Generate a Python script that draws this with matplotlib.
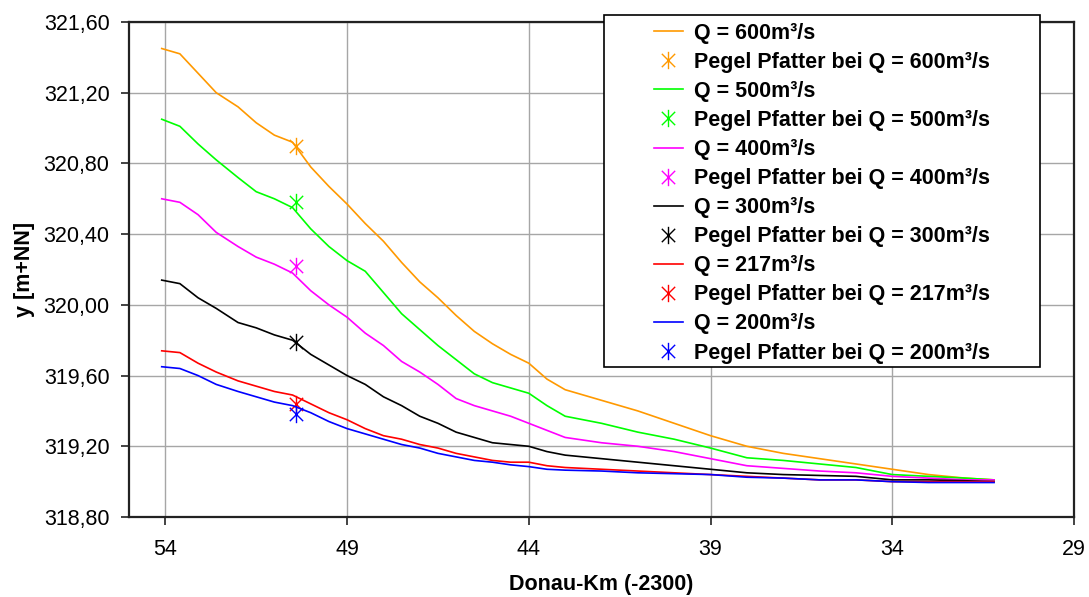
import numpy as np
import matplotlib
matplotlib.use("Agg")
import matplotlib.pyplot as plt
from matplotlib.path import Path
from matplotlib.patches import Rectangle
from matplotlib.ticker import FuncFormatter, MultipleLocator

plt.rcParams['font.family'] = ['Liberation Sans', 'DejaVu Sans']

# Donau-Km (-2300)
km = [54.1, 53.6, 53.1, 52.6, 52.0, 51.5, 51.0, 50.5, 50.0, 49.5,
      49.0, 48.5, 48.0, 47.5, 47.0, 46.5, 46.0, 45.5, 45.0, 44.5,
      44.0, 43.5, 43.0, 42.0, 41.0, 40.0, 39.0, 38.0, 37.0, 36.0,
      35.0, 34.0, 33.0, 32.0, 31.2]

# water levels y [m+NN]
q600 = [321.45, 321.42, 321.31, 321.20, 321.12, 321.03, 320.96, 320.92, 320.78, 320.67,
        320.57, 320.46, 320.36, 320.24, 320.13, 320.04, 319.94, 319.85, 319.78, 319.72,
        319.67, 319.58, 319.52, 319.46, 319.40, 319.33, 319.26, 319.20, 319.16, 319.13,
        319.10, 319.07, 319.04, 319.02, 319.01]
q500 = [321.05, 321.01, 320.91, 320.82, 320.72, 320.64, 320.60, 320.55, 320.43, 320.33,
        320.25, 320.19, 320.07, 319.95, 319.86, 319.77, 319.69, 319.61, 319.56, 319.53,
        319.50, 319.43, 319.37, 319.33, 319.28, 319.24, 319.19, 319.135, 319.12, 319.10,
        319.08, 319.04, 319.03, 319.02, 319.01]
q400 = [320.60, 320.58, 320.51, 320.41, 320.33, 320.27, 320.23, 320.18, 320.08, 320.00,
        319.93, 319.84, 319.77, 319.68, 319.62, 319.55, 319.47, 319.43, 319.40, 319.37,
        319.33, 319.29, 319.25, 319.22, 319.20, 319.17, 319.13, 319.09, 319.075, 319.06,
        319.05, 319.03, 319.02, 319.01, 319.01]
q300 = [320.14, 320.12, 320.04, 319.98, 319.90, 319.87, 319.83, 319.80, 319.72, 319.66,
        319.60, 319.55, 319.48, 319.43, 319.37, 319.33, 319.28, 319.25, 319.22, 319.21,
        319.20, 319.17, 319.15, 319.13, 319.11, 319.09, 319.07, 319.05, 319.04, 319.035,
        319.03, 319.01, 319.01, 319.005, 319.00]
q217 = [319.74, 319.73, 319.67, 319.62, 319.57, 319.54, 319.51, 319.49, 319.44, 319.39,
        319.35, 319.30, 319.26, 319.24, 319.21, 319.19, 319.16, 319.14, 319.12, 319.11,
        319.11, 319.09, 319.08, 319.07, 319.06, 319.05, 319.04, 319.03, 319.02, 319.01,
        319.01, 319.00, 319.00, 319.00, 319.00]
q200 = [319.65, 319.64, 319.60, 319.55, 319.51, 319.48, 319.45, 319.43, 319.39, 319.34,
        319.30, 319.27, 319.24, 319.21, 319.19, 319.16, 319.14, 319.12, 319.11, 319.095,
        319.085, 319.07, 319.065, 319.06, 319.05, 319.045, 319.04, 319.025, 319.02, 319.01,
        319.01, 319.00, 318.995, 318.995, 318.995]

# gauge Pfatter
pegel_km = 50.4
pegel = [320.90, 320.58, 320.22, 319.79, 319.44, 319.38]

discharges = ['600', '500', '400', '300', '217', '200']
colors = ['#FF9900', '#00FF00', '#FF00FF', '#000000', '#FF0000', '#0000FF']
series = [q600, q500, q400, q300, q217, q200]

# excel style asterisk: X plus vertical bar
star = Path([(-1, -1), (1, 1), (-1, 1), (1, -1), (0, -1.3), (0, 1.3)],
            [Path.MOVETO, Path.LINETO, Path.MOVETO, Path.LINETO, Path.MOVETO, Path.LINETO])

fig = plt.figure(figsize=(10.89, 5.97), dpi=100)
ax = fig.add_axes([129/1089, 80/597, 945/1089, 495/597])

handles = []
for q, c, ys, yp in zip(discharges, colors, series, pegel):
    ln, = ax.plot(km, ys, color=c, lw=1.2, label='Q = %sm³/s' % q)
    mk, = ax.plot([pegel_km], [yp], ls='none', marker=star, ms=12.5, mew=1.0,
                  color=c, label='Pegel Pfatter bei Q = %sm³/s' % q)
    handles += [ln, mk]

ax.set_xlim(55, 29)
ax.set_ylim(318.8, 321.6)
ax.set_xticks([54, 49, 44, 39, 34, 29])
ax.yaxis.set_major_locator(MultipleLocator(0.4))
ax.yaxis.set_major_formatter(FuncFormatter(lambda v, p: ('%.2f' % v).replace('.', ',')))
ax.grid(True, color='#a6a6a6', lw=1.0)
ax.set_axisbelow(True)
for s in ax.spines.values():
    s.set_color('#222222')
    s.set_linewidth(1.6)
ax.tick_params(direction='out', length=6, width=1.2, labelsize=15.5, color='#222222')
ax.tick_params(axis='y', pad=8)
ax.tick_params(axis='x', pad=10)

ax.set_xlabel('Donau-Km (-2300)', fontsize=15.5, fontweight='bold', labelpad=10)
ax.set_ylabel('y [m+NN]', fontsize=15.5, fontweight='bold', labelpad=6)

# legend box, frame drawn separately for the wide excel padding
fig.patches.append(Rectangle((604/1089, 1 - 367/597), 436/1089, 352/597,
                             transform=fig.transFigure, facecolor='white',
                             edgecolor='black', lw=1.2, zorder=5))
leg = fig.legend(handles=handles, loc='upper left', frameon=False,
                 bbox_to_anchor=(643/1089, 1 - 12/597), borderpad=0,
                 prop={'size': 15.5, 'weight': 'bold'}, labelspacing=0.375,
                 handlelength=1.35, handletextpad=0.5)
leg.set_zorder(6)

fig.savefig('out.png', dpi=100)
